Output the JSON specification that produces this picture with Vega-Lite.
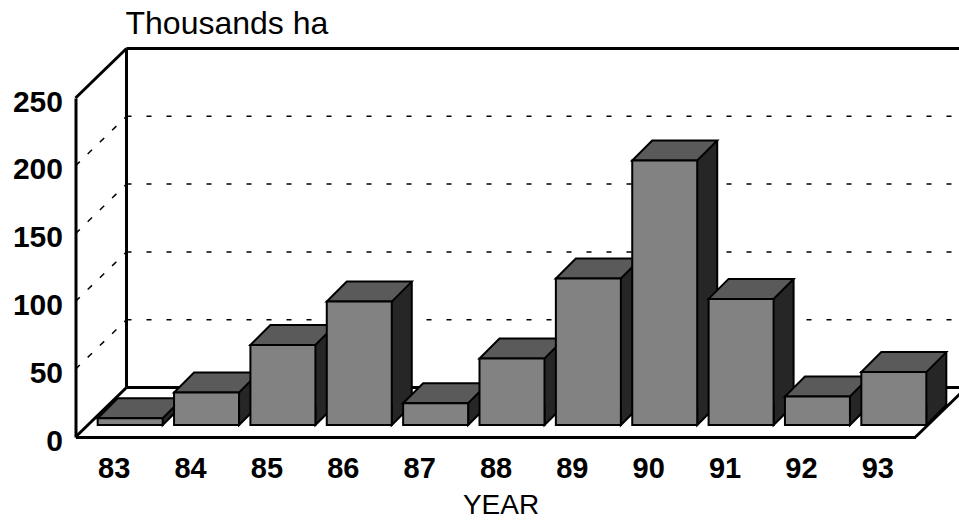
{
  "$schema": "https://vega.github.io/schema/vega-lite/v6.json",
  "width": 840,
  "height": 339,
  "autosize": {"type": "none"},
  "padding": {"left": 75.5, "top": 98, "right": 43.5, "bottom": 92},
  "background": "white",
  "config": {
    "view": {"stroke": null},
    "font": "Liberation Sans",
    "axis": {
      "grid": false,
      "ticks": false,
      "domainColor": "black",
      "domainWidth": 3,
      "labelColor": "black",
      "labelFont": "Liberation Sans",
      "labelFontWeight": "bold",
      "titleFont": "Liberation Sans",
      "titleColor": "black",
      "titleFontWeight": "normal"
    }
  },
  "datasets": {
    "bars": [
      {"year": 83, "value": 5},
      {"year": 84, "value": 24},
      {"year": 85, "value": 59},
      {"year": 86, "value": 91},
      {"year": 87, "value": 16},
      {"year": 88, "value": 49},
      {"year": 89, "value": 108},
      {"year": 90, "value": 195},
      {"year": 91, "value": 93},
      {"year": 92, "value": 21},
      {"year": 93, "value": 39}
    ],
    "levels": [{"v": 50}, {"v": 100}, {"v": 150}, {"v": 200}],
    "edges": [{"v": 0}, {"v": 250}]
  },
  "layer": [
    {
      "data": {"name": "levels"},
      "mark": {"type": "rule", "color": "black", "strokeWidth": 1.5, "strokeDash": [5, 15], "xOffset": 51, "x2Offset": 51, "yOffset": -49.5},
      "encoding": {
        "x": {"datum": 82.5, "type": "quantitative"},
        "x2": {"datum": 95},
        "y": {"field": "v", "type": "quantitative"}
      }
    },
    {
      "data": {"name": "levels"},
      "mark": {"type": "rule", "color": "black", "strokeWidth": 1.5, "strokeDash": [6, 11], "x2Offset": 51, "y2Offset": -49.5},
      "encoding": {
        "x": {"datum": 82.5, "type": "quantitative"},
        "x2": {"datum": 82.5},
        "y": {"field": "v", "type": "quantitative"},
        "y2": {"field": "v"}
      }
    },
    {
      "data": {"name": "edges"},
      "mark": {"type": "rule", "color": "black", "strokeWidth": 3, "x2Offset": 51, "y2Offset": -49.5},
      "encoding": {
        "x": {"datum": 82.5, "type": "quantitative"},
        "x2": {"datum": 82.5},
        "y": {"field": "v", "type": "quantitative"},
        "y2": {"field": "v"}
      }
    },
    {
      "data": {"name": "edges"},
      "mark": {"type": "rule", "color": "black", "strokeWidth": 3, "xOffset": 51, "x2Offset": 51, "yOffset": -49.5},
      "encoding": {
        "x": {"datum": 82.5, "type": "quantitative"},
        "x2": {"datum": 95},
        "y": {"field": "v", "type": "quantitative"}
      }
    },
    {
      "data": {"values": [{}]},
      "mark": {"type": "rule", "color": "black", "strokeWidth": 3, "xOffset": 51, "yOffset": -49.5, "y2Offset": -49.5},
      "encoding": {
        "x": {"datum": 82.5, "type": "quantitative"},
        "y": {"datum": 0, "type": "quantitative"},
        "y2": {"datum": 250}
      }
    },
    {
      "data": {"values": [{}]},
      "mark": {"type": "rule", "color": "black", "strokeWidth": 3, "x2Offset": 51, "y2Offset": -49.5},
      "encoding": {
        "x": {"datum": 93.5, "type": "quantitative"},
        "x2": {"datum": 93.5},
        "y": {"datum": 0, "type": "quantitative"},
        "y2": {"datum": 0}
      }
    },
    {
      "data": {"name": "bars"},
      "mark": {"type": "bar", "fill": "#262626", "strokeWidth": 0, "xOffset": 49, "x2Offset": 69, "yOffset": -32, "y2Offset": -32},
      "encoding": {
        "x": {"field": "year", "type": "quantitative"},
        "x2": {"field": "year"},
        "y": {"field": "value", "type": "quantitative"},
        "y2": {"datum": 0}
      }
    },
    {
      "data": {"name": "bars"},
      "mark": {"type": "rule", "color": "black", "strokeWidth": 2, "xOffset": 69, "yOffset": -32, "y2Offset": -32},
      "encoding": {
        "x": {"field": "year", "type": "quantitative"},
        "y": {"field": "value", "type": "quantitative"},
        "y2": {"datum": 0}
      }
    },
    {
      "data": {"name": "bars"},
      "mark": {"type": "point", "shape": "M 32.5 -20 L 32.5 0 L 52.5 -20", "size": 4, "filled": true, "opacity": 1, "fill": "#262626", "stroke": "black", "strokeWidth": 2, "xOffset": 16.5, "yOffset": -12},
      "encoding": {
        "x": {"field": "year", "type": "quantitative"},
        "y": {"datum": 0, "type": "quantitative"}
      }
    },
    {
      "data": {"name": "bars"},
      "mark": {"type": "point", "shape": "M -32.5 0 L 32.5 0 L 52.5 -20 L -12.5 -20 Z", "size": 4, "filled": true, "opacity": 1, "fill": "#5a5a5a", "stroke": "black", "strokeWidth": 2, "xOffset": 16.5, "yOffset": -12},
      "encoding": {
        "x": {"field": "year", "type": "quantitative"},
        "y": {"field": "value", "type": "quantitative"}
      }
    },
    {
      "data": {"name": "bars"},
      "mark": {"type": "bar", "fill": "#828282", "stroke": "black", "strokeWidth": 2, "xOffset": -16, "x2Offset": 49, "yOffset": -12, "y2Offset": -12},
      "encoding": {
        "x": {
          "field": "year",
          "type": "quantitative",
          "scale": {"domain": [82.5, 93.5], "nice": false, "zero": false},
          "axis": {
            "values": [83, 84, 85, 86, 87, 88, 89, 90, 91, 92, 93],
            "format": "d",
            "labelFontSize": 29,
            "labelPadding": 17,
            "title": "YEAR",
            "titleFontSize": 28,
            "titleX": 425,
            "titleY": 76,
            "titleAlign": "center",
            "titleBaseline": "alphabetic"
          }
        },
        "x2": {"field": "year"},
        "y": {
          "field": "value",
          "type": "quantitative",
          "scale": {"domain": [0, 250], "nice": false, "zero": true},
          "axis": {
            "values": [0, 50, 100, 150, 200, 250],
            "format": "d",
            "labelFontSize": 30,
            "labelPadding": 13,
            "labelOffset": 4,
            "title": "Thousands ha",
            "titleFontSize": 32,
            "titleAngle": 0,
            "titleX": 49.5,
            "titleY": -65,
            "titleAlign": "left",
            "titleBaseline": "alphabetic"
          }
        },
        "y2": {"datum": 0}
      }
    }
  ]
}
